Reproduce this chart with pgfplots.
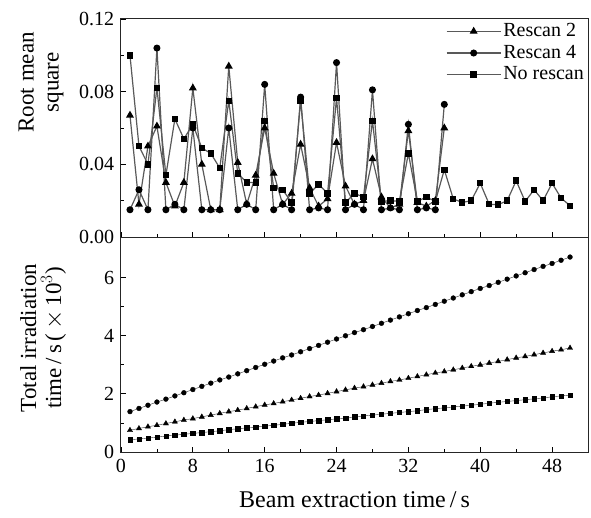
\documentclass[border=0pt]{standalone}
\usepackage{fontspec}
\setmainfont{Liberation Serif}
\usepackage{pgfplots}
\pgfplotsset{compat=1.18}
\begin{document}
\fontsize{20}{24}\selectfont
\begin{tikzpicture}
\path[use as bounding box] (-121pt,-65pt) rectangle (470pt,452pt);
\pgfplotsset{
  common/.style={
    scale only axis, width=467pt,
    xmin=0, xmax=52, xtick={0,8,...,48}, minor x tick num=1,
    tick align=inside, xtick pos=bottom, ytick pos=left,
    axis line style={line width=1pt, black!85},
    major tick length=5pt, minor tick length=3pt,
    every tick/.style={line width=0.8pt, black},
    tick label style={font=\fontsize{20}{24}\selectfont},
    /pgf/number format/assume math mode=true,
    legend image code/.code={\draw[mark repeat=2,mark phase=2,##1] plot coordinates {(0pt,0pt) (27pt,0pt) (54pt,0pt)};},
  },
  ser/.style={black!65, line width=1.2pt, mark options={black, solid}},
}
% ---------------- top panel ----------------
\begin{axis}[common,
  at={(0pt,215pt)}, anchor=south west, height=218pt,
  ymin=0, ymax=0.12, ytick={0,0.04,0.08,0.12}, minor y tick num=1,
  scaled y ticks=false,
  yticklabel style={/pgf/number format/.cd, fixed, fixed zerofill, precision=2},
  xticklabels={},
  ylabel={Root mean\\square},
  ylabel style={font=\fontsize{23}{25}\selectfont, align=center, at={(axis description cs:-0.171,0.71)}, anchor=center},
  legend style={at={(1,1)}, anchor=north east, draw=none, fill=none,
    font=\fontsize{20}{24}\selectfont, row sep=1.5pt, inner sep=2pt},
  legend cell align=left,
]
\addplot[ser, mark=triangle*, mark size=3.4pt] coordinates {
(1,0.067)(2,0.018)(3,0.050)(4,0.061)(5,0.030)(6,0.017)(7,0.030)(8,0.082)
(9,0.040)(10,0.015)(11,0.015)(12,0.094)(13,0.041)(14,0.018)(15,0.034)(16,0.060)
(17,0.035)(18,0.018)(19,0.024)(20,0.051)(21,0.027)(22,0.017)(23,0.021)(24,0.052)
(25,0.028)(26,0.018)(27,0.020)(28,0.043)(29,0.022)(30,0.016)(31,0.018)(32,0.0585)
(33,0.019)(34,0.017)(35,0.020)(36,0.060)};
\addlegendentry{Rescan 2}
\addplot[ser, mark=*, mark size=2.9pt] coordinates {
(1,0.015)(2,0.026)(3,0.015)(4,0.104)(5,0.015)(6,0.018)(7,0.015)(8,0.060)
(9,0.015)(10,0.015)(11,0.015)(12,0.060)(13,0.015)(14,0.018)(15,0.015)(16,0.084)
(17,0.015)(18,0.018)(19,0.015)(20,0.077)(21,0.015)(22,0.016)(23,0.015)(24,0.096)
(25,0.015)(26,0.018)(27,0.015)(28,0.081)(29,0.015)(30,0.016)(31,0.015)(32,0.062)
(33,0.015)(34,0.016)(35,0.015)(36,0.073)};
\addlegendentry{Rescan 4}
\addplot[ser, mark=square*, mark size=2.6pt] coordinates {
(1,0.100)(2,0.050)(3,0.040)(4,0.082)(5,0.034)(6,0.065)(7,0.054)(8,0.062)
(9,0.049)(10,0.046)(11,0.038)(12,0.075)(13,0.035)(14,0.030)(15,0.030)(16,0.064)
(17,0.027)(18,0.026)(19,0.019)(20,0.075)(21,0.024)(22,0.029)(23,0.024)(24,0.0765)
(25,0.019)(26,0.024)(27,0.022)(28,0.064)(29,0.0196)(30,0.020)(31,0.0196)(32,0.046)
(33,0.0196)(34,0.022)(35,0.0196)(36,0.037)(37,0.021)(38,0.019)(39,0.020)(40,0.0296)
(41,0.018)(42,0.0178)(43,0.020)(44,0.031)(45,0.0196)(46,0.026)(47,0.020)(48,0.0296)
(49,0.0215)(50,0.0172)};
\addlegendentry{No rescan}
\end{axis}
% ---------------- bottom panel ----------------
\begin{axis}[common,
  at={(0pt,0pt)}, anchor=south west, height=215pt,
  ymin=0, ymax=7.4, ytick={0,2,4,6}, minor y tick num=1,
  xlabel={Beam extraction time\,/\,s},
  xlabel style={font=\fontsize{24}{28}\selectfont, yshift=-6pt},
  ylabel={Total irradiation\\time\,/\,s\,(\,$\times$\,10$^{3}$)},
  ylabel style={font=\fontsize{23}{25}\selectfont, align=center, at={(axis description cs:-0.167,0.53)}, anchor=center},
]
\addplot[black!80, line width=0.4pt, mark=*, mark size=2.4pt, mark options={black}] coordinates {
(1,1.39)(2,1.50)(3,1.61)(4,1.72)(5,1.82)(6,1.93)(7,2.04)(8,2.15)(9,2.26)(10,2.37)
(11,2.48)(12,2.58)(13,2.69)(14,2.80)(15,2.91)(16,3.02)(17,3.13)(18,3.24)(19,3.34)(20,3.45)
(21,3.56)(22,3.67)(23,3.78)(24,3.89)(25,4.00)(26,4.11)(27,4.21)(28,4.32)(29,4.43)(30,4.54)
(31,4.65)(32,4.76)(33,4.87)(34,4.97)(35,5.08)(36,5.19)(37,5.30)(38,5.41)(39,5.52)(40,5.63)
(41,5.73)(42,5.84)(43,5.95)(44,6.06)(45,6.17)(46,6.28)(47,6.39)(48,6.49)(49,6.60)(50,6.71)};
\addplot[black!80, line width=0.4pt, mark=triangle*, mark size=3pt, mark options={black}] coordinates {
(1,0.75)(2,0.81)(3,0.87)(4,0.92)(5,0.98)(6,1.04)(7,1.10)(8,1.15)(9,1.21)(10,1.27)
(11,1.33)(12,1.39)(13,1.44)(14,1.50)(15,1.56)(16,1.62)(17,1.67)(18,1.73)(19,1.79)(20,1.85)
(21,1.91)(22,1.96)(23,2.02)(24,2.08)(25,2.14)(26,2.20)(27,2.25)(28,2.31)(29,2.37)(30,2.43)
(31,2.48)(32,2.54)(33,2.60)(34,2.66)(35,2.72)(36,2.77)(37,2.83)(38,2.89)(39,2.95)(40,3.00)
(41,3.06)(42,3.12)(43,3.18)(44,3.24)(45,3.29)(46,3.35)(47,3.41)(48,3.47)(49,3.52)(50,3.58)};
\addplot[black!80, line width=0.4pt, mark=square*, mark size=2.2pt, mark options={black}] coordinates {
(1,0.42)(2,0.45)(3,0.48)(4,0.51)(5,0.55)(6,0.58)(7,0.61)(8,0.64)(9,0.67)(10,0.70)
(11,0.73)(12,0.77)(13,0.80)(14,0.83)(15,0.86)(16,0.89)(17,0.92)(18,0.95)(19,0.99)(20,1.02)
(21,1.05)(22,1.08)(23,1.11)(24,1.14)(25,1.17)(26,1.21)(27,1.24)(28,1.27)(29,1.30)(30,1.33)
(31,1.36)(32,1.39)(33,1.42)(34,1.46)(35,1.49)(36,1.52)(37,1.55)(38,1.58)(39,1.61)(40,1.64)
(41,1.68)(42,1.71)(43,1.74)(44,1.77)(45,1.80)(46,1.83)(47,1.86)(48,1.90)(49,1.93)(50,1.96)};
\end{axis}
\end{tikzpicture}
\end{document}
